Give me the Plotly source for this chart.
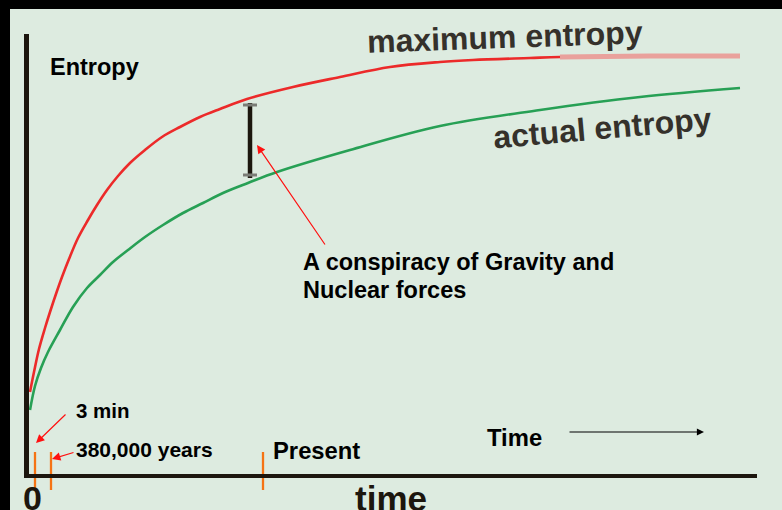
import numpy as np
import plotly.graph_objects as go

# ---- data (arbitrary units: time from origin, entropy from baseline) ----
t_max = [3, 7, 12, 18, 23, 30, 35, 42, 51, 61, 70, 80, 91, 103, 118, 135, 153, 173,
         193, 220, 266, 313, 363, 413, 446, 503, 533, 623, 713]
s_max = [84, 104, 127, 148, 164, 185, 199, 217, 238, 256, 271, 286, 300, 313, 326, 339,
         349, 359, 367, 377, 389, 399, 409, 414, 416, 418, 419, 420, 420]

t_act = [3, 8, 14, 21, 33, 46, 60, 73, 86, 101, 118, 136, 156, 176, 196, 221, 250,
         323, 413, 513, 613, 713]
s_act = [66, 90, 108, 124, 146, 169, 188, 201, 214, 226, 239, 251, 263, 273, 283, 293,
         304, 326, 350, 366, 379, 388]

event_times = [8, 24, 236]
event_labels = ["3 min", "380,000 years", "Present"]
gap_time = 223
gap_top, gap_bottom = 373, 298

BG = "#ddebe0"
INK = "#1c160e"
FONT = "Liberation Sans, Arial, sans-serif"

fig = go.Figure()

# curves
fig.add_trace(go.Scatter(x=t_max, y=s_max, mode="lines",
                         line=dict(color="#ec2a2a", width=2.6, shape="spline", smoothing=1.0),
                         hoverinfo="skip", showlegend=False))
tm = np.array(t_max); sm = np.array(s_max)
mask = tm >= 533
fig.add_trace(go.Scatter(x=tm[mask], y=sm[mask], mode="lines",
                         line=dict(color="#e9a19c", width=5, shape="spline"),
                         hoverinfo="skip", showlegend=False))
fig.add_trace(go.Scatter(x=t_act, y=s_act, mode="lines",
                         line=dict(color="#27a055", width=2.6, shape="spline", smoothing=1.0),
                         hoverinfo="skip", showlegend=False))

# event ticks
ex, ey = [], []
for t in event_times:
    ex += [t, t, None]
    ey += [-14, 24, None]
fig.add_trace(go.Scatter(x=ex, y=ey, mode="lines",
                         line=dict(color="#f57314", width=2.3),
                         hoverinfo="skip", showlegend=False))

# gap bar with caps
fig.add_trace(go.Scatter(x=[gap_time, gap_time], y=[gap_top, gap_bottom], mode="lines",
                         line=dict(color=INK, width=4.5), hoverinfo="skip", showlegend=False))
for yy in (gap_top - 2, gap_bottom + 3):
    fig.add_trace(go.Scatter(x=[gap_time - 7, gap_time + 7], y=[yy, yy], mode="lines",
                             line=dict(color="#7a7c76", width=3), hoverinfo="skip",
                             showlegend=False))

shapes = [
    # axes
    dict(type="line", xref="x", yref="y", x0=-0.5, x1=-0.5, y0=-2, y1=442,
         line=dict(color=INK, width=5)),
    dict(type="line", xref="x", yref="y", x0=-3, x1=730, y0=0, y1=0,
         line=dict(color=INK, width=4)),
    # black frame bands
    dict(type="rect", xref="paper", yref="paper", x0=0, x1=1, y0=1 - 9 / 510, y1=1,
         fillcolor="black", line=dict(width=0), layer="above"),
    dict(type="rect", xref="paper", yref="paper", x0=0, x1=10 / 782, y0=0, y1=1,
         fillcolor="black", line=dict(width=0), layer="above"),
]

anns = []
def txt(x, y, s, size, xanchor="left", yanchor="middle", color="#000000", angle=0):
    anns.append(dict(x=x, y=y, xref="x", yref="y", text=s, showarrow=False,
                     xanchor=xanchor, yanchor=yanchor, textangle=angle,
                     font=dict(family=FONT, size=size, color=color)))

txt(21, 409.5, "<b>Entropy</b>", 23.5)
txt(274, 214.5, "<b>A conspiracy of Gravity and</b>", 23.5)
txt(274, 186.5, "<b>Nuclear forces</b>", 23.5)
txt(47, 65.5, "<b>" + event_labels[0] + "</b>", 20.5)
txt(47, 26.5, "<b>" + event_labels[1] + "</b>", 21)
txt(244, 26, "<b>" + event_labels[2] + "</b>", 23.8)
txt(458, 39, "<b>Time</b>", 23.8)
txt(-6, -1, "<b>0</b>", 34, yanchor="top", color=INK)
txt(326, -1, "<b>time</b>", 35, yanchor="top", color=INK)
txt(478, 439, "<b>maximum entropy</b>", 32, xanchor="center", color="#35312b", angle=-2)
txt(575, 348, "<b>actual entropy</b>", 32, xanchor="center", color="#35312b", angle=-5)

def arrow(x, y, ax, ay, color, size=1.4, width=1.2):
    anns.append(dict(x=x, y=y, ax=ax, ay=ay, xref="x", yref="y", axref="x", ayref="y",
                     text="", showarrow=True, arrowhead=2, arrowsize=size,
                     arrowwidth=width, arrowcolor=color))

arrow(230, 331, 299, 230, "#ff1010")
arrow(9, 33, 40, 63, "#ff1010")
arrow(25, 17, 48, 24, "#ff1010")
arrow(677, 44, 541, 44, "#000000", size=1.3, width=1.1)

fig.update_layout(
    width=782, height=510,
    margin=dict(l=0, r=0, t=0, b=0),
    paper_bgcolor=BG, plot_bgcolor=BG,
    xaxis=dict(range=[-27, 755], visible=False, fixedrange=True),
    yaxis=dict(range=[-34, 476], visible=False, fixedrange=True),
    shapes=shapes, annotations=anns,
)

fig.write_html("out.html", config={"displayModeBar": False},
               post_script="document.body.style.margin='0';document.body.style.overflow='hidden';")
